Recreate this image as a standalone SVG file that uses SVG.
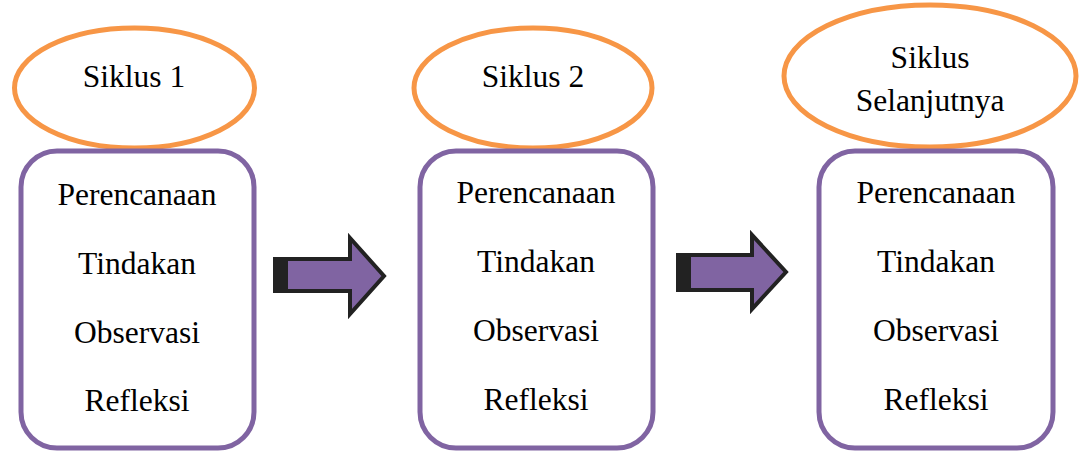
<svg xmlns="http://www.w3.org/2000/svg" width="1079" height="451" viewBox="0 0 1079 451">
<style>
.ell{fill:#fff;stroke:#F79646;stroke-width:5}
.box{fill:#fff;stroke:#8064A2;stroke-width:5}
.t{font-family:"Liberation Serif","Times New Roman",serif;font-size:31.5px;fill:#000;text-anchor:middle}
.arr{fill:#8064A2;stroke:#222;stroke-width:4;stroke-linejoin:miter}
.blk{fill:#222}
</style>
<rect width="1079" height="451" fill="#fff"/>
<g id="siklus1">
<ellipse class="ell" cx="134.5" cy="88" rx="120" ry="60"/>
<text class="t" x="134" y="87">Siklus 1</text>
</g>
<g id="box1">
<rect class="box" x="21" y="151" width="233" height="297" rx="36"/>
<text class="t" x="137" y="205">Perencanaan</text>
<text class="t" x="137" y="274">Tindakan</text>
<text class="t" x="137" y="343">Observasi</text>
<text class="t" x="137" y="411">Refleksi</text>
</g>
<g id="siklus2">
<ellipse class="ell" cx="533" cy="88" rx="119" ry="60"/>
<text class="t" x="533" y="87">Siklus 2</text>
</g>
<g id="box2">
<rect class="box" x="420" y="151" width="233" height="297" rx="36"/>
<text class="t" x="536" y="203">Perencanaan</text>
<text class="t" x="536" y="272">Tindakan</text>
<text class="t" x="536" y="341">Observasi</text>
<text class="t" x="536" y="410">Refleksi</text>
</g>
<g id="siklus3">
<ellipse class="ell" cx="930" cy="76" rx="146" ry="71"/>
<text class="t" x="930" y="68">Siklus</text>
<text class="t" x="930" y="111">Selanjutnya</text>
</g>
<g id="box3">
<rect class="box" x="819" y="151" width="234" height="297" rx="36"/>
<text class="t" x="936" y="203">Perencanaan</text>
<text class="t" x="936" y="272">Tindakan</text>
<text class="t" x="936" y="341">Observasi</text>
<text class="t" x="936" y="410">Refleksi</text>
</g>
<g id="connectors">
<path class="arr" d="M275,259 L350,259 L350,238 L384,276 L350,314 L350,291 L275,291 Z"/>
<rect class="blk" x="273" y="257" width="15" height="36"/>
<path class="arr" d="M678,255 L752,255 L752,235 L786,272 L752,309 L752,290 L678,290 Z"/>
<rect class="blk" x="676" y="253" width="15" height="39"/>
</g>
</svg>
